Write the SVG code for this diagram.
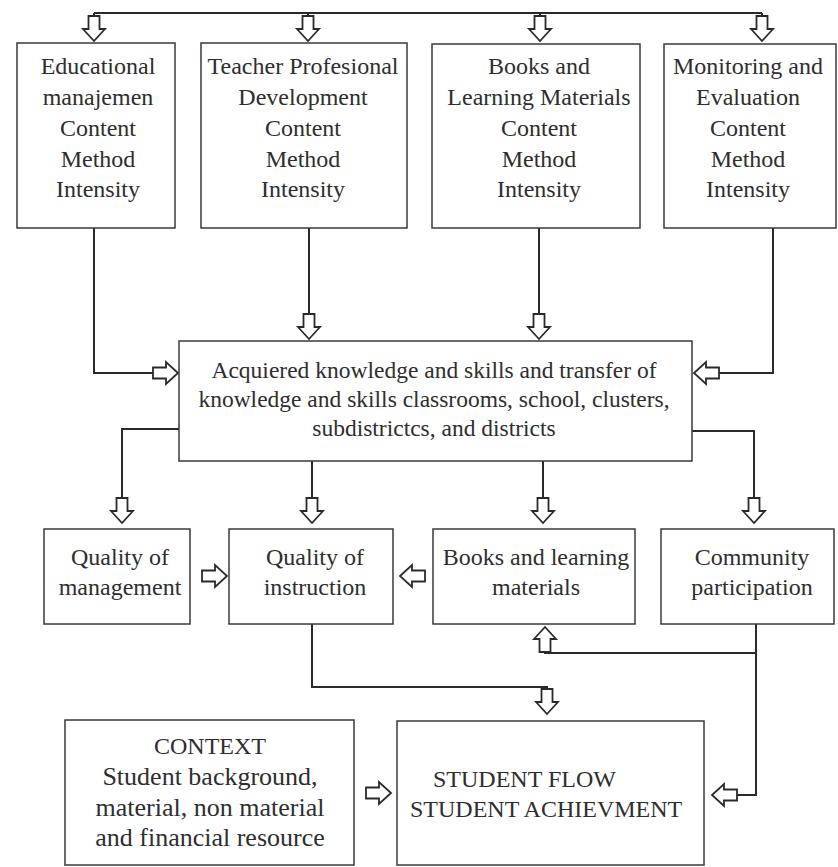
<svg xmlns="http://www.w3.org/2000/svg" xmlns:xlink="http://www.w3.org/1999/xlink" width="838" height="867" viewBox="0 0 838 867">
<style>
.box{fill:#fff;stroke:#3a3a3a;stroke-width:1.5}
.t{font-family:"Liberation Serif","Times New Roman",serif;font-size:24px;fill:#2e2e2e;text-anchor:middle}
.m{font-size:23.5px}
.b{font-size:26px}
.ln{fill:none;stroke:#2a2a2a;stroke-width:2}
</style>
<defs>
<path id="ah" d="M-5.5,-25 H5.5 V-12 H11 L0,0 L-11,-12 H-5.5 Z" fill="#fff" stroke="#2a2a2a" stroke-width="1.8" stroke-linejoin="miter"/>
</defs>
<rect width="838" height="867" fill="#fff"/>
<g id="connectors">
<path class="ln" d="M94,13 H762 M94,13 V16 M308,13 V16 M540,13 V16 M762,13 V16"/>
<use xlink:href="#ah" transform="translate(94,41)"/>
<use xlink:href="#ah" transform="translate(308,41)"/>
<use xlink:href="#ah" transform="translate(540,41)"/>
<use xlink:href="#ah" transform="translate(762,41)"/>
<path class="ln" d="M94,228 V373 H153"/>
<use xlink:href="#ah" transform="translate(178,373) rotate(-90)"/>
<path class="ln" d="M309,228 V314"/>
<use xlink:href="#ah" transform="translate(309,339)"/>
<path class="ln" d="M539,228 V314"/>
<use xlink:href="#ah" transform="translate(539,339)"/>
<path class="ln" d="M773,228 V373 H719"/>
<use xlink:href="#ah" transform="translate(694,373) rotate(90)"/>
<path class="ln" d="M179,429 H122 V498"/>
<use xlink:href="#ah" transform="translate(122,523)"/>
<path class="ln" d="M312,461 V498"/>
<use xlink:href="#ah" transform="translate(312,523)"/>
<path class="ln" d="M543,461 V498"/>
<use xlink:href="#ah" transform="translate(543,523)"/>
<path class="ln" d="M692,431 H754 V498"/>
<use xlink:href="#ah" transform="translate(754,523)"/>
<use xlink:href="#ah" transform="translate(227,576) rotate(-90)"/>
<use xlink:href="#ah" transform="translate(400,576) rotate(90)"/>
<path class="ln" d="M756,624 V795 H737 M756,653 H545 V652"/>
<use xlink:href="#ah" transform="translate(545,627) rotate(180)"/>
<use xlink:href="#ah" transform="translate(712,795) rotate(90)"/>
<path class="ln" d="M312,624 V687 H547 V689"/>
<use xlink:href="#ah" transform="translate(547,714)"/>
<use xlink:href="#ah" transform="translate(391,793) rotate(-90)"/>
</g>
<g id="n-edu">
<rect class="box" x="17" y="43" width="158" height="185"/>
<text class="t" x="98" y="74">Educational</text>
<text class="t" x="98" y="105">manajemen</text>
<text class="t" x="98" y="136">Content</text>
<text class="t" x="98" y="167">Method</text>
<text class="t" x="98" y="197">Intensity</text>
</g>
<g id="n-tpd">
<rect class="box" x="201" y="43" width="206" height="185"/>
<text class="t" x="303" y="74">Teacher Profesional</text>
<text class="t" x="303" y="105">Development</text>
<text class="t" x="303" y="136">Content</text>
<text class="t" x="303" y="167">Method</text>
<text class="t" x="303" y="197">Intensity</text>
</g>
<g id="n-blm">
<rect class="box" x="432" y="44" width="208" height="184"/>
<text class="t" x="539" y="74">Books and</text>
<text class="t" x="539" y="105">Learning Materials</text>
<text class="t" x="539" y="136">Content</text>
<text class="t" x="539" y="167">Method</text>
<text class="t" x="539" y="197">Intensity</text>
</g>
<g id="n-me">
<rect class="box" x="664" y="44" width="172" height="184"/>
<text class="t" x="748" y="74">Monitoring and</text>
<text class="t" x="748" y="105">Evaluation</text>
<text class="t" x="748" y="136">Content</text>
<text class="t" x="748" y="167">Method</text>
<text class="t" x="748" y="197">Intensity</text>
</g>
<g id="n-acq">
<rect class="box" x="179" y="341" width="513" height="120"/>
<text class="t m" x="434" y="378">Acquiered knowledge and skills and transfer of</text>
<text class="t m" x="434" y="407">knowledge and skills classrooms, school, clusters,</text>
<text class="t m" x="434" y="436">subdistrictcs, and districts</text>
</g>
<g id="n-qm">
<rect class="box" x="44" y="529" width="146" height="95"/>
<text class="t" x="120" y="565">Quality of</text>
<text class="t" x="120" y="595">management</text>
</g>
<g id="n-qi">
<rect class="box" x="229" y="529" width="164" height="95"/>
<text class="t" x="315" y="565">Quality of</text>
<text class="t" x="315" y="595">instruction</text>
</g>
<g id="n-blm2">
<rect class="box" x="433" y="529" width="202" height="95"/>
<text class="t" x="536" y="565">Books and learning</text>
<text class="t" x="536" y="595">materials</text>
</g>
<g id="n-cp">
<rect class="box" x="661" y="529" width="173" height="95"/>
<text class="t" x="752" y="565">Community</text>
<text class="t" x="752" y="595">participation</text>
</g>
<g id="n-ctx">
<rect class="box" x="65" y="720" width="289" height="145"/>
<text class="t" x="210" y="754">CONTEXT</text>
<text class="t b" x="210" y="785">Student background,</text>
<text class="t b" x="210" y="816">material, non material</text>
<text class="t b" x="210" y="846">and financial resource</text>
</g>
<g id="n-stu">
<rect class="box" x="397" y="721" width="307" height="144"/>
<text class="t" x="433" y="787" style="text-anchor:start">STUDENT FLOW</text>
<text class="t" x="410" y="817" style="text-anchor:start">STUDENT ACHIEVMENT</text>
</g>
</svg>
